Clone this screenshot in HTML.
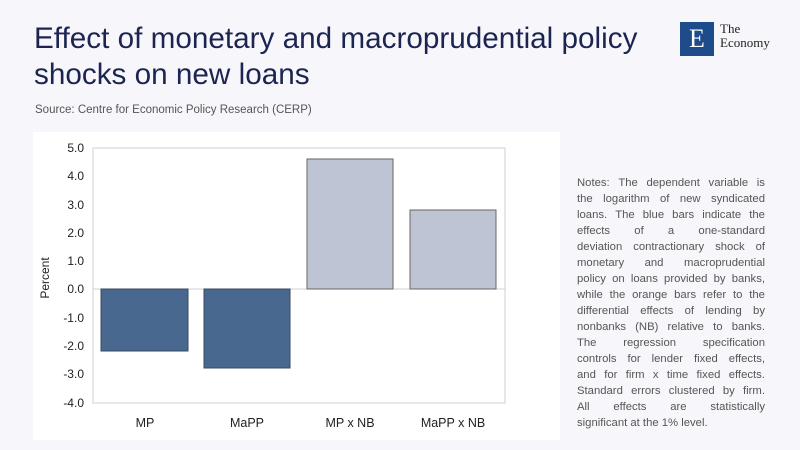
<!DOCTYPE html>
<html><head><meta charset="utf-8"><style>
body{margin:0;width:800px;height:450px;background:#f7f7fb;font-family:"Liberation Sans",sans-serif;position:relative;overflow:hidden}
.t{position:absolute;left:34px;top:21px;font-size:29.7px;line-height:36px;color:#1c2452}
.s{position:absolute;left:35px;top:104px;font-size:11.5px;color:#555}
.panel{position:absolute;left:33px;top:132px;width:527px;height:308px;background:#fff}
.notes{position:absolute;left:577px;top:175px;width:188px;font-size:11.3px;line-height:16px;color:#555}
.notes div{white-space:nowrap;display:flex;justify-content:space-between}
.notes div.last{display:block;text-align:left}
</style></head><body>
<div class="t">Effect of monetary and macroprudential policy<br>shocks on new loans</div>
<div class="s">Source: Centre for Economic Policy Research (CERP)</div>
<div style="position:absolute;left:680px;top:22px;width:34px;height:34px;background:#1e4b8a;color:#fff;font-family:'Liberation Serif',serif;font-size:26px;text-align:center;line-height:34px">E</div>
<div style="position:absolute;left:720px;top:22px;font-family:'Liberation Serif',serif;font-size:13px;line-height:14px;color:#222">The<br>Economy</div>
<div class="panel"></div>
<svg style="position:absolute;left:0;top:0" width="800" height="450" font-family="Liberation Sans,sans-serif">
<rect x="93" y="148" width="412" height="255" fill="none" stroke="#d0d0d0"/>
<line x1="93" y1="289" x2="505" y2="289" stroke="#d0d0d0"/>
<rect x="101" y="289" width="87" height="62" fill="#48688f" stroke="#3a4a60"/>
<rect x="204" y="289" width="86" height="79" fill="#48688f" stroke="#3a4a60"/>
<rect x="307" y="159" width="86" height="130" fill="#bec4d3" stroke="#666"/>
<rect x="410" y="210" width="86" height="79" fill="#bec4d3" stroke="#666"/>
<g font-size="12" fill="#222" text-anchor="end">
<text x="84" y="152">5.0</text><text x="84" y="180">4.0</text><text x="84" y="209">3.0</text><text x="84" y="237">2.0</text><text x="84" y="265">1.0</text><text x="84" y="293">0.0</text><text x="84" y="322">-1.0</text><text x="84" y="350">-2.0</text><text x="84" y="378">-3.0</text><text x="84" y="407">-4.0</text>
</g>
<g font-size="12.5" fill="#222" text-anchor="middle">
<text x="145" y="427">MP</text><text x="247" y="427">MaPP</text><text x="350" y="427">MP x NB</text><text x="453" y="427">MaPP x NB</text>
</g>
<text transform="translate(49,278) rotate(-90)" font-size="12" fill="#222" text-anchor="middle">Percent</text>
</svg>
<div class="notes">
<div><span>Notes:</span><span>The</span><span>dependent</span><span>variable</span><span>is</span></div>
<div><span>the</span><span>logarithm</span><span>of</span><span>new</span><span>syndicated</span></div>
<div><span>loans.</span><span>The</span><span>blue</span><span>bars</span><span>indicate</span><span>the</span></div>
<div><span>effects</span><span>of</span><span>a</span><span>one-standard</span></div>
<div><span>deviation</span><span>contractionary</span><span>shock</span><span>of</span></div>
<div><span>monetary</span><span>and</span><span>macroprudential</span></div>
<div><span>policy</span><span>on</span><span>loans</span><span>provided</span><span>by</span><span>banks,</span></div>
<div><span>while</span><span>the</span><span>orange</span><span>bars</span><span>refer</span><span>to</span><span>the</span></div>
<div><span>differential</span><span>effects</span><span>of</span><span>lending</span><span>by</span></div>
<div><span>nonbanks</span><span>(NB)</span><span>relative</span><span>to</span><span>banks.</span></div>
<div><span>The</span><span>regression</span><span>specification</span></div>
<div><span>controls</span><span>for</span><span>lender</span><span>fixed</span><span>effects,</span></div>
<div><span>and</span><span>for</span><span>firm</span><span>x</span><span>time</span><span>fixed</span><span>effects.</span></div>
<div><span>Standard</span><span>errors</span><span>clustered</span><span>by</span><span>firm.</span></div>
<div><span>All</span><span>effects</span><span>are</span><span>statistically</span></div>
<div class="last">significant at the 1% level.</div>
</div>
</body></html>
